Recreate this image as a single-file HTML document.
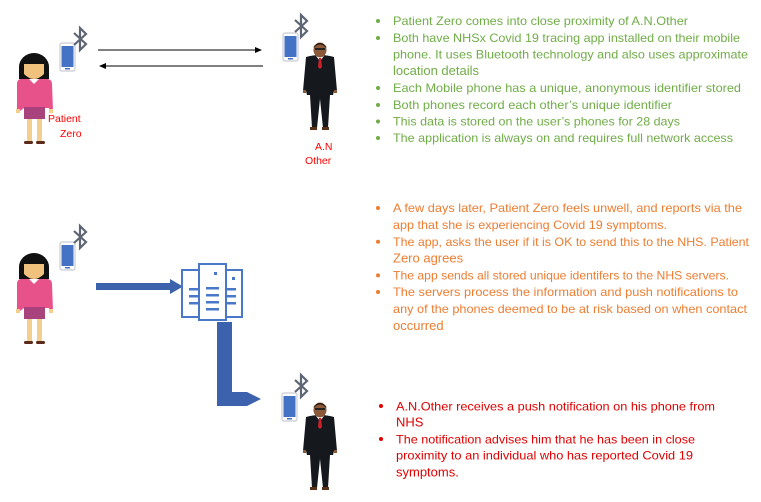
<!DOCTYPE html>
<html><head><meta charset="utf-8"><style>
html,body{margin:0;padding:0;background:#fff;width:761px;height:502px;overflow:hidden}
svg{display:block}
text{font-family:"Liberation Sans",sans-serif}
</style></head><body>
<svg width="761" height="502" viewBox="0 0 761 502" xmlns="http://www.w3.org/2000/svg">
<defs>
<g id="woman">
  <rect x="11" y="66" width="5" height="24" fill="#f2cf8f"/>
  <rect x="21" y="66" width="5" height="24" fill="#f2cf8f"/>
  <rect x="8" y="89" width="9" height="3" rx="1.5" fill="#5a2a1a"/>
  <rect x="20" y="89" width="9" height="3" rx="1.5" fill="#5a2a1a"/>
  <ellipse cx="18" cy="15" rx="15" ry="14" fill="#111"/>
  <rect x="3" y="14" width="30" height="13" fill="#111"/>
  <path d="M8 12 L28 12 L28 22 Q18 32 8 22 Z" fill="#f1c27d"/>
  <path d="M4 27 L32 27 Q36 28 36 32 L37 58 L33 59 L33 56 L8 56 L4 59 L1 58 L1 32 Q1 28 4 27 Z" fill="#e8528a"/>
  <path d="M13 27 L18 32 L23 27 Z" fill="#fff"/>
  <rect x="8" y="55" width="21" height="12" fill="#a8437d"/>
  <rect x="0" y="57" width="4" height="4" fill="#f2cf8f"/>
  <rect x="33" y="57" width="4" height="4" fill="#f2cf8f"/>
</g>
<g id="man">
  <path d="M3 14 Q17 10 31 14 L34 48 L31 48 L30 52 L27 52 L25 85 L20 85 L17 56 L14 85 L9 85 L7 52 L4 52 L3 48 L0 48 Z" fill="#15181d"/>
  <rect x="7" y="84" width="7" height="3" fill="#5a3018"/>
  <rect x="19" y="84" width="7" height="3" fill="#5a3018"/>
  <path d="M13 13 L17 18 L21 13 Z" fill="#fff"/>
  <path d="M16 15 L18 15 L19 24 L17 26 L15 24 Z" fill="#d0202a"/>
  <ellipse cx="17" cy="7" rx="6.5" ry="7.5" fill="#8a5a3a"/>
  <path d="M10.5 5 Q17 -2 23.5 5 L23 3 Q17 -3 11 3 Z" fill="#2a1a10"/>
  <rect x="12" y="5" width="10" height="2" fill="#222"/>
  <rect x="0" y="47" width="3" height="3" fill="#8a5a3a"/>
  <rect x="31" y="47" width="3" height="3" fill="#8a5a3a"/>
</g>
<g id="phone">
  <rect x="0" y="0" width="15" height="28" rx="2" fill="#fff" stroke="#c9ccd4" stroke-width="1.2"/>
  <rect x="1.5" y="3" width="12" height="21" fill="#4472c4"/>
  <rect x="5" y="25" width="5" height="1.5" fill="#4472c4"/>
</g>
<g id="bt">
  <path d="M1 6 L13 17 L7 23 L7 1 L13 7 L1 18" fill="none" stroke="#5e6674" stroke-width="2.2" stroke-linejoin="miter"/>
</g>
</defs>

<use href="#woman" x="16" y="52"/>
<use href="#phone" x="60" y="43"/>
<use href="#bt" x="73" y="27"/>
<text x="48" y="122" font-size="10.5" fill="#ff0000">Patient</text>
<text x="60" y="137" font-size="10.5" fill="#ff0000">Zero</text>

<line x1="98" y1="50" x2="258" y2="50" stroke="#000" stroke-width="1"/>
<path d="M262 50 L255 47 L255 53 Z" fill="#000"/>
<line x1="104" y1="66" x2="263" y2="66" stroke="#000" stroke-width="1"/>
<path d="M99 66 L106 63 L106 69 Z" fill="#000"/>

<use href="#phone" x="283" y="33"/>
<use href="#bt" x="294" y="14"/>
<use href="#man" x="303" y="43"/>
<text x="315" y="150" font-size="10.5" fill="#ff0000">A.N</text>
<text x="305" y="164" font-size="10.5" fill="#ff0000">Other</text>

<g fill="#70ad47" font-size="12">
  <circle cx="378" cy="21" r="2"/>
  <circle cx="378" cy="38" r="2"/>
  <circle cx="378" cy="88" r="2"/>
  <circle cx="378" cy="105" r="2"/>
  <circle cx="378" cy="121.5" r="2"/>
  <circle cx="378" cy="138" r="2"/>
  <text x="393" y="25" textLength="295" lengthAdjust="spacingAndGlyphs">Patient Zero comes into close proximity of A.N.Other</text>
  <text x="393" y="42" textLength="347" lengthAdjust="spacingAndGlyphs">Both have NHSx Covid 19 tracing app installed on their mobile</text>
  <text x="393" y="58.5" textLength="355" lengthAdjust="spacingAndGlyphs">phone. It uses Bluetooth technology and also uses approximate</text>
  <text x="393" y="75" font-size="13">location details</text>
  <text x="393" y="92" textLength="348" lengthAdjust="spacingAndGlyphs">Each Mobile phone has a unique, anonymous identifier stored</text>
  <text x="393" y="109" textLength="279" lengthAdjust="spacingAndGlyphs">Both phones record each other’s unique identifier</text>
  <text x="393" y="125.5" textLength="287" lengthAdjust="spacingAndGlyphs">This data is stored on the user’s phones for 28 days</text>
  <text x="393" y="142" textLength="340" lengthAdjust="spacingAndGlyphs">The application is always on and requires full network access</text>
</g>

<use href="#woman" x="16" y="252"/>
<use href="#phone" x="60" y="242"/>
<use href="#bt" x="73" y="225"/>

<rect x="96" y="283" width="75" height="7" fill="#3d62ad"/>
<path d="M170 279 L183 286.5 L170 294 Z" fill="#3d62ad"/>

<g fill="#fff" stroke="#4a78c8" stroke-width="2">
  <rect x="182" y="270" width="18" height="47"/>
  <rect x="225" y="270" width="17" height="47"/>
  <rect x="199" y="264" width="27" height="56"/>
</g>
<g fill="#4a78c8">
  <rect x="189" y="288" width="10" height="2.5"/>
  <rect x="189" y="295" width="10" height="2.5"/>
  <rect x="189" y="302" width="10" height="2.5"/>
  <rect x="206" y="287" width="13" height="2.5"/>
  <rect x="206" y="294" width="13" height="2.5"/>
  <rect x="206" y="301" width="13" height="2.5"/>
  <rect x="206" y="308" width="13" height="2.5"/>
  <rect x="226" y="288" width="10" height="2.5"/>
  <rect x="226" y="295" width="10" height="2.5"/>
  <rect x="226" y="302" width="10" height="2.5"/>
  <rect x="214" y="272" width="3" height="3"/>
  <rect x="232" y="277" width="3" height="3"/>
</g>

<path d="M217 322 L232 322 L232 392 L247 392 L261 399 L247 406 L217 406 Z" fill="#3d62ad"/>

<use href="#phone" x="282" y="393"/>
<use href="#bt" x="294" y="374"/>
<use href="#man" x="303" y="403"/>

<g fill="#ed7d31" font-size="12">
  <circle cx="378" cy="208" r="2"/>
  <circle cx="378" cy="241.8" r="2"/>
  <circle cx="378" cy="275.4" r="2"/>
  <circle cx="378" cy="292" r="2"/>
  <text x="393" y="212" textLength="349" lengthAdjust="spacingAndGlyphs">A few days later, Patient Zero feels unwell, and reports via the</text>
  <text x="393" y="229" textLength="274" lengthAdjust="spacingAndGlyphs">app that she is experiencing Covid 19 symptoms.</text>
  <text x="393" y="245.8" textLength="356" lengthAdjust="spacingAndGlyphs">The app, asks the user if it is OK to send this to the NHS. Patient</text>
  <text x="393" y="262.6" font-size="13">Zero agrees</text>
  <text x="393" y="279.4" textLength="336" lengthAdjust="spacingAndGlyphs">The app sends all stored unique identifers to the NHS servers.</text>
  <text x="393" y="296" textLength="345" lengthAdjust="spacingAndGlyphs">The servers process the information and push notifications to</text>
  <text x="393" y="313" textLength="354" lengthAdjust="spacingAndGlyphs">any of the phones deemed to be at risk based on when contact</text>
  <text x="393" y="330" font-size="13">occurred</text>
</g>

<g fill="#e00000" font-size="12">
  <circle cx="381" cy="406" r="2"/>
  <circle cx="381" cy="439" r="2"/>
  <text x="396" y="410.5" textLength="319" lengthAdjust="spacingAndGlyphs">A.N.Other receives a push notification on his phone from</text>
  <text x="396" y="426.5" font-size="13">NHS</text>
  <text x="396" y="443.5" textLength="299" lengthAdjust="spacingAndGlyphs">The notification advises him that he has been in close</text>
  <text x="396" y="459.5" textLength="297" lengthAdjust="spacingAndGlyphs">proximity to an individual who has reported Covid 19</text>
  <text x="396" y="476.5" font-size="13">symptoms.</text>
</g>
</svg>
</body></html>
